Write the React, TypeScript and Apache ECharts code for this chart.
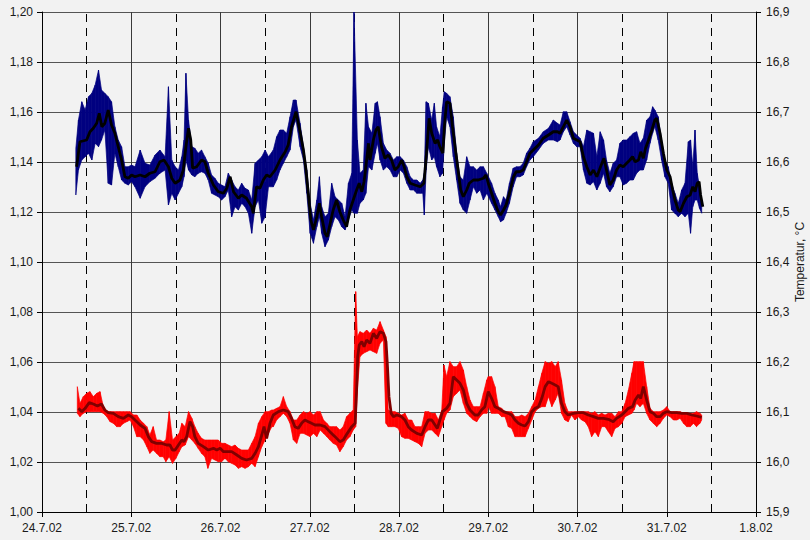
import React, { useEffect, useRef } from "react";
import * as echarts from "echarts";

const dayLabels = ["24.7.02", "25.7.02", "26.7.02", "27.7.02", "28.7.02", "29.7.02", "30.7.02", "31.7.02", "1.8.02"];
const noonHours = [12, 36, 60, 84, 108, 132, 156, 180];

// hours since 24.7.02 00:00, value (left axis)
const blueSmooth: [number, number][] = [
  [9.3,1.1381],[10.2,1.1481],[12.0,1.1488],[12.9,1.1521],[13.8,1.1535],[14.7,1.1555],[15.4,1.1595],[16.1,1.1541],[16.9,1.1555],[17.8,1.1608],[18.7,1.1548],[19.6,1.1515],[20.5,1.1461],[21.4,1.1408],[22.3,1.1341],[23.2,1.1335],[24.1,1.1348],[25.0,1.1341],[26.4,1.1348],[27.7,1.1341],[29.0,1.1355],[30.4,1.1361],[31.7,1.1401],[32.8,1.1408],[34.0,1.1381],[34.9,1.1335],[35.8,1.1315],[37.1,1.1328],[38.0,1.1368],[38.7,1.1461],[39.4,1.1535],[40.0,1.1488],[40.5,1.1375],[41.6,1.1381],[42.9,1.1408],[43.8,1.1401],[44.7,1.1355],[46.1,1.1308],[47.4,1.1281],[48.8,1.1275],[49.7,1.1295],[50.6,1.1341],[51.5,1.1281],[52.8,1.1255],[53.7,1.1268],[55.0,1.1255],[56.4,1.1221],[56.8,1.1195],[57.7,1.1301],[58.6,1.1295],[59.5,1.1328],[60.4,1.1348],
  [61.3,1.1341],[62.7,1.1368],[64.0,1.1408],[65.4,1.1441],[66.2,1.1468],[67.1,1.1541],[68.3,1.1601],[69.4,1.1521],[70.3,1.1448],[71.0,1.1368],[71.6,1.1275],[72.3,1.1168],[73.0,1.1128],[73.9,1.1181],[74.6,1.1235],[75.2,1.1181],[76.1,1.1115],[76.7,1.1101],[77.5,1.1155],[78.3,1.1208],[79.2,1.1248],[80.1,1.1201],[81.0,1.1168],[81.9,1.1141],[82.8,1.1208],[83.7,1.1248],[84.6,1.1288],[85.3,1.1315],[86.0,1.1281],[86.6,1.1321],[87.3,1.1408],[87.8,1.1475],[88.2,1.1408],[89.1,1.1488],[89.8,1.1528],[90.4,1.1541],[91.3,1.1461],[92.2,1.1415],[93.1,1.1428],[94.0,1.1408],[94.9,1.1368],[95.8,1.1381],[96.7,1.1408],[97.4,1.1381],[98.1,1.1341],[99.0,1.1315],[100.3,1.1308],[101.7,1.1301],[102.7,1.1315],[103.4,1.1435],[104.1,1.1575],[104.8,1.1515],[105.7,1.1475],[106.4,1.1488],[107.0,1.1461],[107.8,1.1435],[108.2,1.1541],[108.8,1.1641],[109.7,1.1635],[110.4,1.1541],[111.3,1.1435],[112.0,1.1355],[112.6,1.1288],[113.3,1.1261],[114.2,1.1288],[114.9,1.1315],[116.0,1.1328],[117.3,1.1328],[118.7,1.1335],
  [119.4,1.1348],[120.0,1.1315],[120.9,1.1275],[121.8,1.1235],[122.7,1.1201],[123.3,1.1188],[124.1,1.1208],[124.8,1.1228],[125.7,1.1275],[126.8,1.1341],[127.5,1.1361],[128.5,1.1361],[129.4,1.1368],[130.3,1.1401],[131.2,1.1435],[132.1,1.1448],[133.5,1.1468],[134.8,1.1495],[136.2,1.1508],[137.5,1.1521],[138.6,1.1521],[139.3,1.1515],[140.2,1.1541],[141.1,1.1568],[142.0,1.1541],[142.9,1.1495],[143.8,1.1488],[144.7,1.1481],[145.6,1.1421],[146.5,1.1381],[147.4,1.1348],[148.3,1.1368],[149.2,1.1341],[150.2,1.1381],[151.1,1.1415],[151.9,1.1361],[152.7,1.1308],[153.6,1.1328],[154.5,1.1368],[155.4,1.1388],[156.3,1.1381],[157.2,1.1395],[158.1,1.1408],[158.8,1.1421],[159.5,1.1401],[160.4,1.1408],[161.0,1.1441],[161.7,1.1415],[162.3,1.1455],[163.1,1.1488],[164.0,1.1528],[164.8,1.1568],[165.3,1.1575],[166.2,1.1515],[167.1,1.1435],[168.0,1.1368],[168.9,1.1341],[169.6,1.1288],[170.2,1.1248],[171.1,1.1208],[171.6,1.1201],[172.5,1.1235],[173.4,1.1261],[174.3,1.1268],[175.0,1.1301],[175.6,1.1281],[176.2,1.1315],[176.7,1.1321],[177.1,1.1268],[177.7,1.1221],
];

// hours, high, low of the raw (noisy) blue readings
const blueRaw: [number, number, number][] = [
  [9.1,1.1455,1.1268],[9.8,1.1568,1.1368],[10.7,1.1641,1.1408],[11.6,1.1608,1.1421],[12.5,1.1661,1.1435],[13.4,1.1675,1.1408],[14.3,1.1708,1.1475],[15.2,1.1768,1.1461],[16.0,1.1688,1.1488],[16.9,1.1675,1.1528],[17.8,1.1661,1.1315],[18.7,1.1641,1.1308],[19.6,1.1541,1.1435],[20.5,1.1488,1.1381],[21.4,1.1461,1.1328],[22.3,1.1381,1.1315],[23.2,1.1381,1.1308],[24.1,1.1388,1.1321],[25.0,1.1381,1.1301],[26.4,1.1448,1.1255],[27.7,1.1395,1.1301],[29.0,1.1388,1.1321],[30.4,1.1428,1.1335],[31.7,1.1448,1.1355],[33.1,1.1421,1.1368],[34.0,1.1701,1.1228],[34.9,1.1408,1.1275],[35.8,1.1381,1.1248],[36.7,1.1368,1.1275],[37.6,1.1421,1.1301],[38.2,1.1488,1.1341],[38.7,1.1755,1.1408],[39.4,1.1568,1.1368],[40.3,1.1461,1.1348],[41.1,1.1455,1.1341],[42.0,1.1435,1.1355],[42.9,1.1448,1.1361],[43.8,1.1421,1.1355],[44.7,1.1395,1.1328],[45.6,1.1348,1.1275],[46.5,1.1335,1.1268],[47.4,1.1315,1.1261],[48.3,1.1308,1.1248],[49.2,1.1301,1.1261],[50.1,1.1355,1.1288],[51.0,1.1328,1.1181],[51.9,1.1301,1.1221],[52.8,1.1288,1.1208],[53.7,1.1315,1.1235],[54.6,1.1295,1.1221],[55.5,1.1288,1.1195],[56.4,1.1248,1.1115],[57.3,1.1395,1.1221],[58.2,1.1408,1.1248],[59.1,1.1421,1.1155],[60.0,1.1448,1.1181],[60.9,1.1421,1.1301],
  [62.2,1.1448,1.1301],[63.1,1.1501,1.1328],[64.0,1.1528,1.1368],[64.9,1.1528,1.1395],[65.8,1.1515,1.1421],[66.7,1.1581,1.1448],[67.6,1.1648,1.1541],[68.3,1.1648,1.1568],[69.4,1.1555,1.1461],[70.3,1.1461,1.1408],[71.2,1.1368,1.1275],[72.1,1.1235,1.1115],[73.0,1.1168,1.1075],[73.9,1.1248,1.1141],[74.6,1.1341,1.1181],[75.2,1.1221,1.1115],[76.1,1.1181,1.1061],[77.0,1.1195,1.1088],[77.9,1.1315,1.1141],[78.8,1.1261,1.1181],[79.7,1.1248,1.1168],[80.6,1.1235,1.1141],[81.5,1.1181,1.1128],[82.4,1.1315,1.1168],[83.3,1.1355,1.1208],[83.9,1.2000,1.1195],[84.8,1.1488,1.1195],[85.5,1.1355,1.1235],[86.4,1.1368,1.1248],[87.1,1.1635,1.1275],[87.8,1.1541,1.1381],[88.7,1.1515,1.1368],[89.6,1.1635,1.1435],[90.2,1.1641,1.1475],[90.9,1.1581,1.1408],[91.8,1.1475,1.1368],[92.7,1.1448,1.1381],[93.6,1.1435,1.1368],[94.5,1.1408,1.1341],[95.4,1.1421,1.1341],[96.3,1.1421,1.1368],[97.2,1.1408,1.1355],[98.1,1.1381,1.1315],[99.0,1.1341,1.1288],[99.9,1.1328,1.1288],[100.8,1.1328,1.1275],[101.7,1.1315,1.1275],[102.4,1.1328,1.1275],[102.8,1.1355,1.1188],[103.3,1.1641,1.1368],[103.9,1.1635,1.1461],[104.8,1.1568,1.1408],[105.5,1.1635,1.1421],[106.1,1.1541,1.1381],[107.0,1.1501,1.1341],[107.7,1.1621,1.1355],[108.2,1.1681,1.1475],[108.8,1.1675,1.1581],[109.7,1.1661,1.1541],[110.6,1.1581,1.1421],[111.5,1.1435,1.1328],[112.4,1.1341,1.1235],[113.3,1.1328,1.1208],[114.2,1.1421,1.1195],[115.1,1.1381,1.1248],[116.0,1.1381,1.1301],[116.9,1.1368,1.1275],[117.8,1.1381,1.1288],[118.7,1.1381,1.1248],[119.6,1.1355,1.1275],
  [120.9,1.1315,1.1235],[121.8,1.1275,1.1208],[122.7,1.1248,1.1181],[123.3,1.1221,1.1161],[124.1,1.1261,1.1168],[124.8,1.1248,1.1195],[125.7,1.1315,1.1235],[126.7,1.1375,1.1301],[127.6,1.1381,1.1341],[128.5,1.1381,1.1341],[129.4,1.1395,1.1348],[130.3,1.1435,1.1381],[131.2,1.1455,1.1408],[132.1,1.1481,1.1421],[133.5,1.1495,1.1448],[134.8,1.1521,1.1475],[136.2,1.1535,1.1488],[137.5,1.1568,1.1488],[138.6,1.1555,1.1481],[139.3,1.1548,1.1488],[140.2,1.1601,1.1521],[141.1,1.1601,1.1541],[142.0,1.1561,1.1508],[142.9,1.1521,1.1475],[143.8,1.1508,1.1461],[144.7,1.1495,1.1461],[145.6,1.1461,1.1368],[146.5,1.1528,1.1315],[147.4,1.1521,1.1308],[148.3,1.1515,1.1321],[149.2,1.1421,1.1288],[150.1,1.1521,1.1315],[151.0,1.1488,1.1355],[151.8,1.1408,1.1301],[152.7,1.1355,1.1281],[153.6,1.1395,1.1301],[154.5,1.1408,1.1341],[155.4,1.1475,1.1341],[156.3,1.1488,1.1308],[157.2,1.1488,1.1315],[158.1,1.1501,1.1328],[159.0,1.1515,1.1328],[159.9,1.1521,1.1355],[160.8,1.1475,1.1368],[161.7,1.1495,1.1368],[162.6,1.1568,1.1408],[163.5,1.1581,1.1475],[164.2,1.1621,1.1515],[164.8,1.1608,1.1541],[165.7,1.1581,1.1488],[166.6,1.1488,1.1408],[167.5,1.1408,1.1341],[168.4,1.1381,1.1315],[169.3,1.1315,1.1208],[170.2,1.1275,1.1195],[171.1,1.1235,1.1181],[172.0,1.1288,1.1195],[172.9,1.1315,1.1181],[173.8,1.1481,1.1195],[174.4,1.1488,1.1115],[175.0,1.1381,1.1221],[175.6,1.1528,1.1248],[176.2,1.1355,1.1248],[176.8,1.1301,1.1215],[177.4,1.1248,1.1195],
];

// hours, temperature °C (right axis)
const redSmooth: [number, number][] = [
  [9.8,16.1073],[10.7,16.1007],[11.6,16.1073],[12.7,16.1187],[13.8,16.116],[14.9,16.112],[16.0,16.116],[16.9,16.104],[17.8,16.0987],[19.2,16.0973],[20.5,16.0907],[21.9,16.0873],[23.2,16.094],[24.1,16.0907],[25.0,16.084],[26.4,16.074],[27.7,16.0673],[28.6,16.0507],[29.5,16.0407],[30.8,16.0373],[32.2,16.0373],[33.5,16.034],[34.4,16.034],[35.1,16.024],[35.8,16.024],[36.7,16.034],[37.6,16.044],[38.2,16.0407],[38.9,16.0507],[39.8,16.0807],[40.5,16.0707],[41.1,16.0507],[42.0,16.0373],[43.4,16.0307],[44.7,16.024],[46.1,16.0273],[47.0,16.024],[47.9,16.0273],[48.8,16.0207],[50.1,16.0207],[51.0,16.0207],[52.4,16.014],[53.7,16.0073],[55.0,16.004],[56.4,16.0073],[57.3,16.0173],[58.2,16.0307],[59.1,16.054],[59.7,16.0707],[60.4,16.0473],[61.3,16.0773],[62.2,16.094],[63.6,16.1007],[64.9,16.104],[66.2,16.1007],[67.1,16.0873],[68.0,16.0707],[68.9,16.0673],[69.8,16.0773],[70.7,16.084],[71.6,16.0807],[72.5,16.0773],[73.4,16.074],[74.8,16.074],[76.1,16.0707],[77.4,16.0607],[78.8,16.0507],[80.1,16.0407],[81.0,16.044],[82.1,16.0573],[83.3,16.0707],[84.2,16.0773],[84.6,16.144],[84.9,16.2107],[85.3,16.234],[86.0,16.2407],[86.6,16.2307],[87.3,16.244],[88.2,16.2373],[89.1,16.2573],[90.0,16.2473],[90.9,16.2607],[91.8,16.2573],[92.5,16.2407],[92.9,16.1907],[93.3,16.1307],[93.9,16.0973],[94.5,16.0907],[95.4,16.094],[96.7,16.0907],[97.6,16.084],[98.5,16.0707],[99.4,16.064],[100.8,16.0573],[102.1,16.054],[103.0,16.0707],[103.9,16.084],[104.8,16.084],[105.7,16.074],[106.3,16.0673],[107.0,16.084],[107.7,16.1007],[108.8,16.1073],[109.7,16.1173],[110.6,16.1707],[111.5,16.164],[112.4,16.1573],[113.3,16.144],[114.2,16.1173],[115.1,16.104],[116.4,16.094],[117.3,16.094],[118.2,16.104],[119.1,16.1107],[120.0,16.1407],[120.9,16.1273],[121.8,16.1107],[122.7,16.1073],[124.1,16.1007],[125.4,16.0973],[126.3,16.094],[127.2,16.084],[128.1,16.0773],[129.0,16.074],[129.9,16.072],[130.8,16.0807],[131.7,16.1007],[132.6,16.1073],[133.5,16.1107],[134.4,16.1273],[135.3,16.1507],[136.2,16.1607],[137.1,16.1573],[138.0,16.154],[138.8,16.1507],[139.7,16.1173],[140.6,16.1007],[141.5,16.094],[142.9,16.0973],[144.2,16.0987],[145.6,16.0987],[146.9,16.094],[148.3,16.0907],[149.6,16.0873],[151.0,16.0873],[152.3,16.0853],[153.6,16.0807],[154.5,16.0873],[155.9,16.094],[156.8,16.1007],[157.7,16.1073],[158.8,16.1107],[159.5,16.124],[160.4,16.134],[161.0,16.1273],[161.7,16.1507],[162.6,16.124],[163.5,16.1007],[164.4,16.0973],[165.3,16.0907],[166.2,16.0907],[167.1,16.0973],[168.0,16.1007],[169.3,16.0987],[170.7,16.0987],[172.0,16.0973],[173.4,16.0973],[174.7,16.094],[176.0,16.092],[177.4,16.0893],
];

// hours, high, low of the raw (noisy) temperature readings
const redRaw: [number, number, number][] = [
  [9.5,16.1507,16.0973],[10.2,16.1173,16.0907],[11.1,16.1307,16.0973],[12.0,16.1373,16.1007],[12.9,16.1407,16.1007],[13.8,16.1307,16.1007],[14.7,16.1373,16.1007],[15.6,16.1407,16.1007],[16.5,16.1107,16.0973],[17.4,16.1007,16.0907],[18.3,16.1007,16.0807],[19.2,16.1007,16.0773],[20.1,16.1007,16.0707],[21.0,16.1007,16.0707],[21.9,16.1007,16.0773],[22.8,16.1007,16.0807],[23.7,16.1007,16.084],[24.6,16.094,16.0707],[25.5,16.094,16.0507],[26.4,16.084,16.0507],[27.3,16.0773,16.044],[28.2,16.0707,16.0307],[29.0,16.054,16.0173],[29.9,16.0707,16.024],[30.8,16.044,16.0173],[31.7,16.044,16.0107],[32.6,16.0407,16.0107],[33.3,16.044,16.0007],[34.2,16.1007,16.0107],[35.1,16.044,15.9973],[36.0,16.0507,16.0073],[36.9,16.0573,16.0207],[37.6,16.0773,16.0307],[38.5,16.0707,16.034],[39.4,16.1007,16.0507],[40.3,16.0873,16.044],[41.1,16.0707,16.0373],[42.0,16.0573,16.0273],[42.9,16.0473,16.0173],[43.8,16.044,16.0107],[44.6,16.044,15.9873],[45.6,16.044,16.0073],[46.5,16.044,16.004],[47.4,16.044,16.0007],[48.3,16.0373,16.0007],[49.2,16.0373,16.0073],[50.1,16.034,16.0007],[51.0,16.0307,15.9973],[51.9,16.034,15.994],[52.8,16.0273,15.9873],[53.7,16.024,15.9907],[54.6,16.024,15.9873],[55.5,16.024,15.9907],[56.4,16.0373,15.9973],[57.3,16.0507,15.9907],[58.2,16.0773,16.0107],[59.1,16.0907,16.0307],[60.0,16.1007,16.044],[60.9,16.1007,16.0573],[61.8,16.104,16.0707],
  [62.2,16.104,16.0707],[63.1,16.1073,16.084],[64.0,16.1107,16.0907],[64.9,16.1307,16.0973],[65.8,16.1107,16.0907],[66.7,16.1007,16.0773],[67.6,16.084,16.044],[68.5,16.084,16.0373],[69.4,16.094,16.0573],[70.3,16.1007,16.0573],[71.2,16.0973,16.054],[72.1,16.1007,16.0507],[73.0,16.094,16.0573],[73.9,16.1007,16.0507],[74.8,16.1007,16.064],[75.7,16.084,16.0573],[76.6,16.0773,16.0507],[77.4,16.0707,16.044],[78.3,16.0707,16.0373],[79.2,16.0707,16.034],[80.1,16.064,16.0207],[81.0,16.0707,16.0307],[81.9,16.0907,16.044],[82.8,16.0973,16.0507],[83.7,16.104,16.064],[84.35,16.3407,16.0707],[84.8,16.2507,16.144],[85.5,16.2607,16.2107],[86.4,16.2573,16.2173],[87.3,16.264,16.2207],[88.2,16.2573,16.224],[89.1,16.2673,16.2207],[90.0,16.264,16.2173],[90.9,16.2807,16.2373],[91.8,16.264,16.244],[92.5,16.2507,16.0773],[93.1,16.104,16.0707],[94.0,16.1007,16.0707],[94.9,16.1007,16.0707],[95.8,16.0973,16.0673],[96.7,16.094,16.0507],[97.6,16.0973,16.0473],[98.5,16.084,16.0473],[99.4,16.084,16.044],[100.3,16.0707,16.0407],[101.2,16.0707,16.0373],[102.1,16.0707,16.0307],[103.0,16.1007,16.0573],[103.9,16.1007,16.064],[104.8,16.0973,16.064],[105.7,16.0973,16.0573],[106.6,16.084,16.0507],[107.5,16.104,16.0707],[108.1,16.194,16.084],[108.8,16.1707,16.0973],[109.7,16.2007,16.104],[110.6,16.1907,16.1307],[111.5,16.1907,16.1373],[112.4,16.2007,16.144],[113.3,16.184,16.1173],[114.2,16.1507,16.0973],[115.1,16.124,16.0907],[116.0,16.1107,16.084],[116.9,16.1107,16.0807],[117.8,16.1107,16.0907],[118.7,16.1373,16.0973],[119.6,16.164,16.0973],[120.0,16.1707,16.1107],
  [120.9,16.1707,16.0973],[121.8,16.1507,16.0973],[122.7,16.1107,16.0973],[123.6,16.1073,16.0907],[124.5,16.1007,16.0907],[125.4,16.1007,16.0707],[126.3,16.1007,16.0673],[127.2,16.0907,16.0507],[128.1,16.0907,16.0507],[129.0,16.094,16.0507],[129.9,16.0907,16.0507],[130.8,16.0973,16.0673],[131.7,16.1107,16.084],[132.6,16.124,16.1007],[133.5,16.1507,16.1073],[134.4,16.1773,16.1107],[135.3,16.2007,16.1107],[136.2,16.1973,16.1307],[137.1,16.2007,16.1107],[138.0,16.1907,16.124],[138.8,16.2007,16.1373],[139.7,16.164,16.0973],[140.6,16.1173,16.084],[141.5,16.1007,16.0807],[142.4,16.1007,16.094],[143.3,16.1007,16.084],[144.2,16.1007,16.0907],[145.1,16.1007,16.084],[146.0,16.1007,16.0807],[146.9,16.1007,16.0707],[147.8,16.0973,16.0507],[148.7,16.1007,16.0607],[149.6,16.094,16.0507],[150.5,16.0973,16.0707],[151.4,16.094,16.0707],[152.3,16.0973,16.0607],[153.2,16.0973,16.0507],[154.1,16.0907,16.0673],[155.0,16.1007,16.0707],[155.9,16.1007,16.0773],[156.8,16.1173,16.0907],[157.7,16.144,16.094],[158.6,16.1773,16.0973],[159.2,16.2007,16.104],[159.9,16.2007,16.1173],[160.8,16.2007,16.1107],[161.7,16.2007,16.1173],[162.6,16.1507,16.0973],[163.5,16.1073,16.084],[164.4,16.1007,16.0773],[165.3,16.1007,16.0707],[166.2,16.1007,16.0773],[167.1,16.104,16.0873],[168.0,16.1107,16.094],[168.9,16.1007,16.0907],[169.8,16.1007,16.084],[170.7,16.1007,16.084],[171.6,16.1007,16.0873],[172.5,16.0973,16.0773],[173.4,16.0973,16.0707],[174.3,16.0973,16.0707],[175.2,16.0973,16.0773],[176.0,16.1007,16.0707],[176.9,16.0973,16.0773],[177.4,16.094,16.084],
];

const FONT = "Liberation Sans";
const BG = "#f2f2f2";
const W = 810;
const H = 540;

function bandSeries(name: string, samples: [number, number, number][], color: string, yAxisIndex: number, z: number) {
  const data: number[][] = [];
  for (let i = 0; i < samples.length - 1; i++) {
    const a = samples[i];
    const b = samples[i + 1];
    data.push([a[0], a[1], a[2], b[0], b[1], b[2]]);
  }
  return {
    type: "custom",
    name,
    yAxisIndex,
    z,
    silent: true,
    data,
    encode: { x: [0, 3], y: [1, 2, 4, 5] },
    renderItem: (_params: any, api: any) => {
      const p1 = api.coord([api.value(0), api.value(1)]);
      const p2 = api.coord([api.value(3), api.value(4)]);
      const p3 = api.coord([api.value(3), api.value(5)]);
      const p4 = api.coord([api.value(0), api.value(2)]);
      return {
        type: "polygon",
        shape: { points: [p1, p2, p3, p4] },
        style: { fill: color, stroke: color, lineWidth: 0.7 },
      };
    },
  };
}

export default function App() {
  const ref = useRef<HTMLDivElement>(null);
  useEffect(() => {
    if (!ref.current) return;
    document.body.style.margin = "0";
    document.body.style.background = BG;
    const chart = echarts.init(ref.current, null, { renderer: "svg", width: W, height: H });
    chart.setOption({
      animation: false,
      backgroundColor: BG,
      textStyle: { fontFamily: FONT },
      grid: { left: 42, right: 54, top: 12, bottom: 28, containLabel: false, outerBoundsMode: "none" },
      xAxis: {
        type: "value",
        min: 0,
        max: 192,
        interval: 24,
        axisLine: { lineStyle: { color: "#000", width: 1 } },
        axisTick: { show: true, length: 5, lineStyle: { color: "#000" } },
        axisLabel: {
          color: "#1a1a1a",
          fontSize: 12,
          fontFamily: FONT,
          margin: 10,
          formatter: (v: number) => dayLabels[Math.round(v / 24)] ?? "",
        },
        splitLine: { show: true, lineStyle: { color: "#3a3a3a", width: 1 } },
      },
      yAxis: [
        {
          type: "value",
          min: 1.0,
          max: 1.2,
          interval: 0.02,
          position: "left",
          axisLine: { show: true, lineStyle: { color: "#000" } },
          axisTick: { show: true, length: 5, lineStyle: { color: "#000" } },
          axisLabel: {
            color: "#1a1a1a",
            fontSize: 12,
            fontFamily: FONT,
            margin: 9,
            formatter: (v: number) => v.toFixed(2).replace(".", ","),
          },
          splitLine: { show: true, lineStyle: { color: "#555", width: 1 } },
        },
        {
          type: "value",
          min: 15.9,
          max: 16.9,
          interval: 0.1,
          position: "right",
          name: "Temperatur, °C",
          nameLocation: "middle",
          nameRotate: 90,
          nameGap: 38,
          nameMoveOverlap: false,
          nameTextStyle: { color: "#1a1a1a", fontSize: 12, fontFamily: FONT },
          axisLine: { show: true, lineStyle: { color: "#000" } },
          axisTick: { show: true, length: 5, lineStyle: { color: "#000" } },
          axisLabel: {
            color: "#1a1a1a",
            fontSize: 12,
            fontFamily: FONT,
            margin: 10,
            formatter: (v: number) => v.toFixed(1).replace(".", ","),
          },
          splitLine: { show: false },
        },
      ],
      series: [
        {
          type: "line",
          name: "noon",
          data: [],
          z: 1,
          markLine: {
            silent: true,
            symbol: ["none", "none"],
            z: 1,
            label: { show: false },
            lineStyle: { color: "#000", width: 1, type: [8, 6] },
            data: noonHours.map((h) => ({ xAxis: h })),
          },
        },
        bandSeries("blueRaw", blueRaw, "#000080", 0, 3),
        {
          type: "line",
          name: "blueSmooth",
          yAxisIndex: 0,
          z: 4,
          data: blueSmooth,
          showSymbol: false,
          symbol: "none",
          lineStyle: { color: "#000", width: 2.8 },
        },
        bandSeries("redRaw", redRaw, "#ff0000", 1, 3),
        {
          type: "line",
          name: "redSmooth",
          yAxisIndex: 1,
          z: 4,
          data: redSmooth,
          showSymbol: false,
          symbol: "none",
          lineStyle: { color: "#800000", width: 2.8 },
        },
      ],
    });
    return () => chart.dispose();
  }, []);
  return (
    <div
      ref={ref}
      style={{ position: "fixed", left: 0, top: 0, width: W, height: H, background: BG }}
    />
  );
}
